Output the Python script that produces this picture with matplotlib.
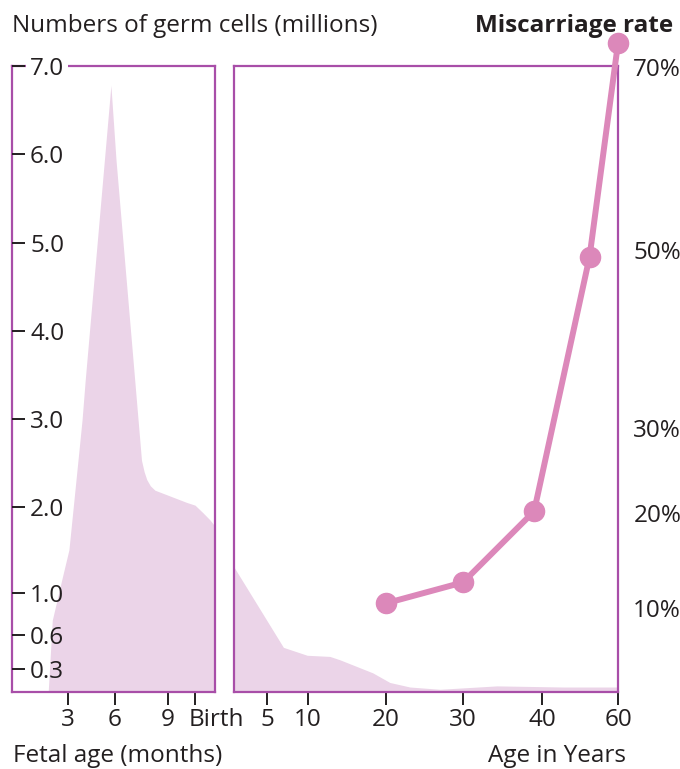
import numpy as np
import matplotlib.pyplot as plt
from matplotlib.transforms import ScaledTranslation

plt.rcParams['font.family'] = ['Open Sans', 'DejaVu Sans']
plt.rcParams['text.color'] = '#231f20'

# germ cell count (millions) before birth, by fetal age in months (10 = birth)
fetal_months = [1.7, 2.0, 2.6, 3.06, 3.3, 3.77, 3.9, 4.1, 5.74, 6.06, 7.02,
                7.5, 7.65, 7.8, 8.0, 8.26, 9.7, 10.0, 10.3, 10.55, 10.75]
fetal_cells = [0.0, 0.74, 1.15, 1.5, 1.93, 2.76, 2.99, 3.44, 6.78, 5.93, 3.67,
               2.53, 2.4, 2.31, 2.24, 2.19, 2.05, 2.02, 1.93, 1.85, 1.77]

# germ cell count (millions) after birth, by age in years
postnatal_years = [0, 7, 9.9, 12.8, 14.1, 18.3, 20.5, 23.1, 27, 34.3, 45.5, 60]
postnatal_cells = [1.30, 0.49, 0.42, 0.41, 0.38, 0.265, 0.18, 0.14, 0.12, 0.15, 0.14, 0.14]

# miscarriage rate (%) by maternal age
maternal_age = [20, 30, 39, 52.5, 60]
miscarriage_pct = [10.5, 12.7, 20.2, 49.2, 72.6]

month_ticks = [3, 6, 9, 10]
month_labels = ['3', '6', '9', 'Birth']
year_ticks = [5, 10, 20, 30, 40, 60]
cell_ticks = [0.3, 0.6, 1.0, 2.0, 3.0, 4.0, 5.0, 6.0, 7.0]
rate_ticks = [10, 20, 30, 50, 70]

PURPLE = '#a84ea8'
FILL = '#ebd4e8'
LINE = '#dc88ba'
DARK = '#231f20'
FS = 17.5


def piecewise(vals, pos):
    # uneven axis spacing of the original, linear between anchor ticks
    vals = np.asarray(vals, float)
    pos = np.asarray(pos, float)

    def make(a, b):
        def f(x):
            x = np.asarray(x, float)
            y = np.interp(x, a, b)
            y = np.where(x < a[0], b[0] + (x - a[0]) * (b[1] - b[0]) / (a[1] - a[0]), y)
            y = np.where(x > a[-1], b[-1] + (x - a[-1]) * (b[-1] - b[-2]) / (a[-1] - a[-2]), y)
            return y
        return f
    return make(vals, pos), make(pos, vals)


month_scale = piecewise(month_ticks, [68, 115, 168, 195])
year_scale = piecewise([0] + year_ticks, [234, 267, 308, 386, 463, 542, 618])
cell_scale = piecewise(cell_ticks, [-669, -635, -593, -507, -419, -331, -243, -154, -66])
rate_scale = piecewise(rate_ticks, [-608, -513, -428, -250, -67])

W, H = 680, 769
fig = plt.figure(figsize=(W / 100, H / 100), dpi=100)


def px_axes(x0, y0, x1, y1):
    return fig.add_axes([x0 / W, 1 - y1 / H, (x1 - x0) / W, (y1 - y0) / H])


ax1 = px_axes(12, 66, 215, 692)
ax2 = px_axes(234, 66, 618, 692)

for ax in (ax1, ax2):
    ax.set_yscale('function', functions=cell_scale)
    ax.set_ylim(0.096, 7.0)
    for s in ax.spines.values():
        s.set_color(PURPLE)
        s.set_linewidth(1.6)
    ax.tick_params(axis='x', direction='out', length=9.5, width=1.4, color=DARK,
                   labelsize=FS, labelcolor=DARK, pad=2)

# left panel: fetal period
ax1.set_xscale('function', functions=month_scale)
ax1.fill_between(fetal_months, fetal_cells, 0, color=FILL, linewidth=0)
ax1.set_xlim(-0.57, 10.74)
ax1.set_xticks(month_ticks)
ax1.set_xticklabels(month_labels)
birth = ax1.get_xticklabels()[-1]
birth.set_horizontalalignment('left')
birth.set_transform(birth.get_transform() + ScaledTranslation(-0.06, 0, fig.dpi_scale_trans))
ax1.set_yticks(cell_ticks)
ax1.set_yticklabels(['%.1f' % v for v in cell_ticks])
ax1.tick_params(axis='y', direction='in', length=9.5, width=1.4, color=DARK,
                labelsize=FS, labelcolor=DARK, pad=-13)
for lab in ax1.get_yticklabels():
    lab.set_horizontalalignment('left')
ax1.get_yticklabels()[-1].set_bbox(dict(facecolor='white', edgecolor='none', pad=3))
ax1.yaxis.set_zorder(3)

# right panel: after birth
ax2.set_xscale('function', functions=year_scale)
ax2.fill_between(postnatal_years, postnatal_cells, 0, color=FILL, linewidth=0)
ax2.set_xlim(0, 60)
ax2.set_xticks(year_ticks)
ax2.set_yticks([])

ax3 = ax2.twinx()
ax3.set_yscale('function', functions=rate_scale)
ax3.set_ylim(1.16, 70.11)
for s in ax3.spines.values():
    s.set_visible(False)
ax3.plot(maternal_age, miscarriage_pct, color=LINE, linewidth=4.3, marker='o',
         markersize=14.5, clip_on=False, zorder=5)
ax3.set_yticks(rate_ticks)
ax3.set_yticklabels(['%d%%' % v for v in rate_ticks])
ax3.tick_params(axis='y', length=0, pad=11, labelsize=FS, labelcolor=DARK)

fig.text(12 / W, 1 - 32 / H, 'Numbers of germ cells (millions)', fontsize=FS, va='baseline')
fig.text(673 / W, 1 - 32 / H, 'Miscarriage rate', fontsize=FS, fontweight='bold',
         ha='right', va='baseline')
fig.text(13 / W, 1 - 762 / H, 'Fetal age (months)', fontsize=FS, va='baseline')
fig.text(626 / W, 1 - 762 / H, 'Age in Years', fontsize=FS, ha='right', va='baseline')

fig.savefig('out.png', dpi=100)
